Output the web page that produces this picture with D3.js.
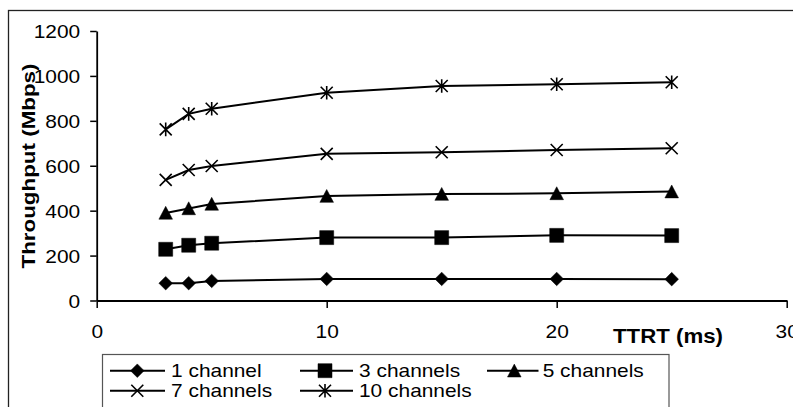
<!DOCTYPE html>
<html><head><meta charset="utf-8">
<script src="https://cdn.jsdelivr.net/npm/d3@7"></script>
<style>body{margin:0;background:#fff}svg{display:block}</style></head>
<body>
<svg id="c" width="793" height="407"></svg>
<script>
const ttrt = [3, 4, 5, 10, 15, 20, 25];
const seriesNames = ["1 channel", "3 channels", "5 channels", "7 channels", "10 channels"];
const ch1 = [77, 77, 87, 96, 96, 96, 95];
const ch3 = [228, 246, 255, 280, 280, 290, 289];
const ch5 = [390, 410, 430, 465, 474, 477, 485];
const ch7 = [537, 581, 599, 653, 660, 670, 678];
const ch10 = [762, 831, 854, 925, 955, 963, 972];
const markers = ["diamond", "square", "triangle", "x", "star"];
const xTicks = [0, 10, 20, 30];
const yTicks = [0, 200, 400, 600, 800, 1000, 1200];
const xTitle = "TTRT (ms)";
const yTitle = "Throughput (Mbps)";

const allSeries = [ch1, ch3, ch5, ch7, ch10];
const svg = d3.select("#c");
const FONT = "'Liberation Sans', Arial, sans-serif";

const x = d3.scaleLinear().domain([0, 30]).range([96.7, 786.7]);
const y = d3.scaleLinear().domain([0, 1200]).range([300.5, 31]);

// outer border
svg.append("rect").attr("x", 8.5).attr("y", 10.5).attr("width", 820).attr("height", 440)
  .attr("fill", "none").attr("stroke", "#222").attr("stroke-width", 1.3);

function stretch(sel, f) {
  sel.each(function () {
    const len = this.getComputedTextLength();
    d3.select(this).attr("textLength", len * f).attr("lengthAdjust", "spacingAndGlyphs");
  });
}

// axes
const yAxis = svg.append("g").attr("transform", `translate(${x(0)},0)`)
  .call(d3.axisLeft(y).tickValues(yTicks).tickSize(6.5).tickPadding(10).tickSizeOuter(0).tickFormat(d3.format("d")));
const xAxis = svg.append("g").attr("transform", `translate(0,${y(0)})`)
  .call(d3.axisBottom(x).tickValues(xTicks).tickSize(7.5).tickPadding(17).tickSizeOuter(0).tickFormat(d3.format("d")));
[yAxis, xAxis].forEach(a => {
  a.select(".domain").attr("stroke", "#000").attr("stroke-width", 1.8);
  a.selectAll(".tick line").attr("stroke", "#000").attr("stroke-width", 1.5);
  a.selectAll(".tick text").attr("font-family", FONT).attr("font-size", 19).attr("fill", "#000");
});
yAxis.selectAll(".tick text").attr("dy", "0.36em");
stretch(yAxis.selectAll(".tick text"), 1.1);
stretch(xAxis.selectAll(".tick text"), 1.1);

// titles
svg.append("text").attr("x", 668).attr("y", 343).attr("text-anchor", "middle")
  .attr("font-family", FONT).attr("font-weight", "bold").attr("font-size", 20)
  .attr("textLength", 110).attr("lengthAdjust", "spacingAndGlyphs").text(xTitle);
svg.append("text").attr("transform", "translate(35,166) rotate(-90)").attr("text-anchor", "middle")
  .attr("font-family", FONT).attr("font-weight", "bold").attr("font-size", 19)
  .attr("textLength", 205).attr("lengthAdjust", "spacingAndGlyphs").text(yTitle);

function markerPath(type) {
  switch (type) {
    case "diamond": return "M0,-6.8L6.8,0L0,6.8L-6.8,0Z";
    case "square": return "M-7,-7H7V7H-7Z";
    case "triangle": return "M0,-6.6L6.8,6.3L-6.8,6.3Z";
    case "x": return "M-6,-6L6,6M6,-6L-6,6";
    case "star": return "M-6,-6L6,6M6,-6L-6,6M0,-6.8V6.8";
  }
}
function drawMarker(g, type, cx, cy) {
  const open = type === "x" || type === "star";
  g.append("path").attr("transform", `translate(${cx},${cy})`).attr("d", markerPath(type))
    .attr("fill", open ? "none" : "#000").attr("stroke", "#000")
    .attr("stroke-width", open ? 1.6 : 0.5);
}

const line = d3.line().x((d, i) => x(ttrt[i])).y(d => y(d));
allSeries.forEach((vals, si) => {
  const g = svg.append("g");
  g.append("path").attr("d", line(vals)).attr("fill", "none").attr("stroke", "#000").attr("stroke-width", 2);
  vals.forEach((v, i) => drawMarker(g, markers[si], x(ttrt[i]), y(v)));
});

// legend
svg.append("rect").attr("x", 102.5).attr("y", 354.5).attr("width", 566.5).attr("height", 80)
  .attr("fill", "#fff").attr("stroke", "#555").attr("stroke-width", 1.2);
const legCols = [{l: 110, r: 165, m: 137.3, t: 171}, {l: 300, r: 353, m: 325, t: 359}, {l: 487, r: 538.5, m: 514.3, t: 542.7}];
const legRows = [370.7, 390.7];
seriesNames.forEach((name, i) => {
  const c = legCols[i % 3], ry = legRows[Math.floor(i / 3)];
  const g = svg.append("g");
  g.append("line").attr("x1", c.l).attr("x2", c.r).attr("y1", ry).attr("y2", ry).attr("stroke", "#000").attr("stroke-width", 2);
  drawMarker(g, markers[i], c.m, ry);
  const t = g.append("text").attr("x", c.t).attr("y", ry + 6.5).attr("font-family", FONT).attr("font-size", 19).text(name);
  stretch(t, 1.1);
});
</script>
</body></html>
